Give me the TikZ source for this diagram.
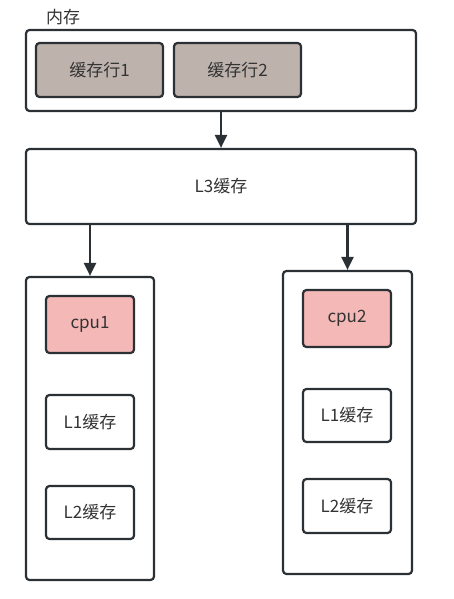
\documentclass[tikz,border=0pt]{standalone}
\usepackage{fontspec}
\setmainfont{Noto Sans CJK SC}
\usetikzlibrary{arrows.meta}

\definecolor{edge}{HTML}{2B3035}
\definecolor{rowfill}{HTML}{BEB2AD}
\definecolor{cpufill}{HTML}{F4B8B6}
\definecolor{txt}{HTML}{333333}

\begin{document}
\begin{tikzpicture}[x=1pt, y=-1pt]

% styles
\tikzstyle{box}=[draw=edge, line width=2.2pt, rounded corners=3.5pt, inner sep=0pt, text=txt, font=\fontsize{17}{19}\selectfont]
\tikzstyle{arr}=[draw=edge, line width=2.2pt, -{Triangle[length=13pt, width=12pt]}]

\useasboundingbox (0,0) rectangle (453,599);

% memory
\node[text=txt, font=\fontsize{17}{19}\selectfont] (memlabel) at (63,17) {内存};
\node[box, minimum width=390pt, minimum height=81pt] (mem) at (221,70.5) {};
\node[box, fill=rowfill, minimum width=127pt, minimum height=54pt] (row1) at (99.5,70) {缓存行1};
\node[box, fill=rowfill, minimum width=127pt, minimum height=54pt] (row2) at (237.5,70) {缓存行2};

% L3
\node[box, minimum width=390pt, minimum height=75pt] (l3) at (221,186.5) {L3缓存};

% cpu columns
\node[box, minimum width=128pt, minimum height=303pt] (col1) at (90,428.5) {};
\node[box, minimum width=129pt, minimum height=303pt] (col2) at (347.5,422.5) {};

\node[box, fill=cpufill, minimum width=88pt, minimum height=57pt] (cpu1) at (90,324.5) {cpu1};
\node[box, minimum width=88pt, minimum height=54pt] (l1a) at (90,422) {L1缓存};
\node[box, minimum width=88pt, minimum height=53pt] (l2a) at (90,512.5) {L2缓存};

\node[box, fill=cpufill, minimum width=88pt, minimum height=57pt] (cpu2) at (347,318.5) {cpu2};
\node[box, minimum width=88pt, minimum height=53pt] (l1b) at (347,415.5) {L1缓存};
\node[box, minimum width=88pt, minimum height=54pt] (l2b) at (347,506) {L2缓存};

% arrows
\draw[arr] (mem.south) -- (l3.north);
\draw[arr] (l3.south -| col1.north) -- (col1.north);
\draw[arr] (l3.south -| col2.north) -- (col2.north);

\end{tikzpicture}
\end{document}
